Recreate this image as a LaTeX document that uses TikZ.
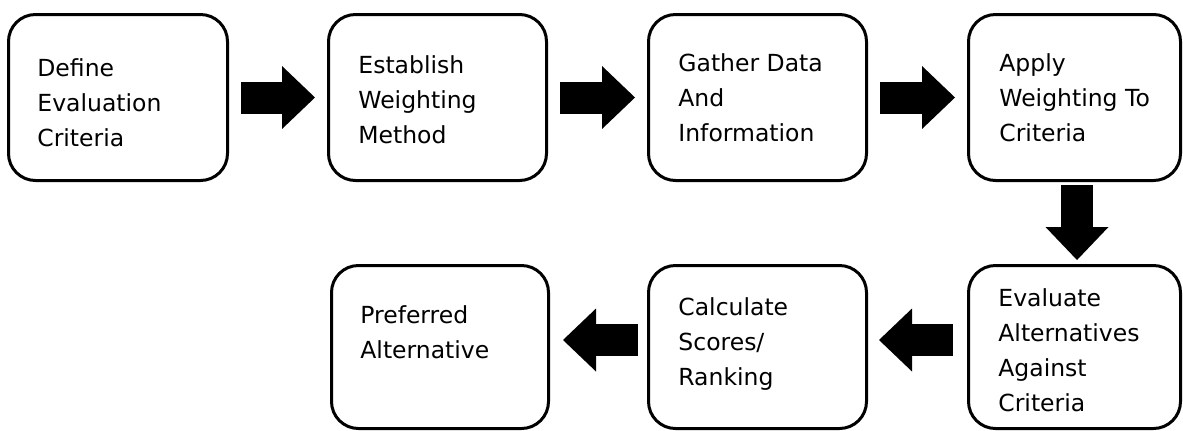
\documentclass[tikz,border=0pt]{standalone}
\usepackage{fontspec}
\setmainfont{DejaVu Sans}
\usetikzlibrary{arrows.meta,calc}
\begin{document}
\begin{tikzpicture}[x=0.5pt,y=-0.5pt,
  stepbox/.style={rectangle, draw=black, fill=white, line width=1.5pt,
    rounded corners=13.5pt, inner sep=0pt},
  toprow/.style={minimum height=83pt},
  botrow/.style={minimum height=81.5pt},
  steptext/.style={anchor=north west, inner sep=0pt, align=left,
    font=\fontsize{11.75pt}{17.5pt}\selectfont},
  flow/.style={draw=black, line width=16pt,
    -{Triangle[width=31.5pt,length=16.5pt,line width=0pt]},
    shorten <=6pt, shorten >=6pt}]

% canvas
\fill[white] (0,0) rectangle (1183,430);
\useasboundingbox (0,0) rectangle (1183,430);

% top row
\node[stepbox, toprow, minimum width=109.5pt] (b1) at (118,97.5) {};
\node[stepbox, toprow, minimum width=109pt]   (b2) at (437.5,97.5) {};
\node[stepbox, toprow, minimum width=109pt]   (b3) at (757.5,97.5) {};
\node[stepbox, toprow, minimum width=106pt]   (b4) at (1074.5,97.5) {};

% bottom row
\node[stepbox, botrow, minimum width=106pt]   (b5) at (1074.5,347) {};
\node[stepbox, botrow, minimum width=109pt]   (b6) at (757.5,347) {};
\node[stepbox, botrow, minimum width=108.5pt] (b7) at (440,347) {};

% labels
\node[steptext] (t1) at ($(b1.north west)+(30,45)$) {Define\\Evaluation\\Criteria};
\node[steptext] (t2) at ($(b2.north west)+(31,42)$) {Establish\\Weighting\\Method};
\node[steptext] (t3) at ($(b3.north west)+(31,40)$) {Gather Data\\And\\Information};
\node[steptext] (t4) at ($(b4.north west)+(32,40)$) {Apply\\Weighting To\\Criteria};
\node[steptext] (t5) at ($(b5.north west)+(31,24)$) {Evaluate\\Alternatives\\Against\\Criteria};
\node[steptext] (t6) at ($(b6.north west)+(31,33)$) {Calculate\\Scores/\\Ranking};
\node[steptext] (t7) at ($(b7.north west)+(30,41)$) {Preferred\\Alternative};

% block arrows
\draw[flow] (b1) -- (b2);
\draw[flow] (b2) -- (b3);
\draw[flow] (b3) -- (b4);
\draw[flow, shorten <=1.5pt, shorten >=2pt] ([xshift=1.25pt]b4.south) -- ([xshift=1.25pt]b5.north);
\draw[flow, shorten <=7pt, shorten >=5.5pt] ([yshift=3.5pt]b5.west) -- ([yshift=3.5pt]b6.east);
\draw[flow, shorten <=4.5pt, shorten >=6.5pt] ([yshift=3.5pt]b6.west) -- ([yshift=3.5pt]b7.east);
\end{tikzpicture}
\end{document}
